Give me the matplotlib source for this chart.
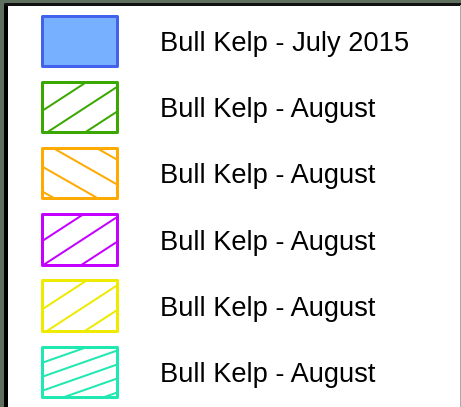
import matplotlib
matplotlib.use("Agg")
import matplotlib.pyplot as plt
from matplotlib.patches import Rectangle
import numpy as np

labels = ["Bull Kelp - July 2015", "Bull Kelp - August", "Bull Kelp - August",
          "Bull Kelp - August", "Bull Kelp - August", "Bull Kelp - August"]
edge_colors = ["#4262ee", "#3aa800", "#ffaa00", "#c400ff", "#eeea00", "#1fe8b0"]
fill_colors = ["#76b0ff", "none", "none", "none", "none", "none"]
# hatch styles: (direction sign, slope, offsets) ; None = solid
hatches = [None,
           (-1, 0.65, [29.8, 54.5, 79.2, 103.9]),
           (1, 0.57, [43.5, 18.7, -6.1, -30.9]),
           (-1, 0.65, [27.5, 52.2, 76.9, 101.6]),
           (-1, 0.65, [29.8, 54.5, 79.2, 103.9]),
           (-1, 0.35, [2.5, 16.5, 30.5, 44.5, 58.5, 72.5])]

W, H = 461, 407
px = 0.72
fig = plt.figure(figsize=(W / 100, H / 100), dpi=100)
ax = fig.add_axes([0, 0, 1, 1])
ax.set_xlim(0, W)
ax.set_ylim(H, 0)
ax.axis("off")

# background (map) strips and legend frame
ax.add_patch(Rectangle((0, 0), W, H, facecolor="#5f705e", edgecolor="none", zorder=0))
ax.add_patch(Rectangle((8, 5.5), 451.5, H, facecolor="white", edgecolor="none", zorder=1))
ax.plot([6, 6], [3.5, H], color="black", lw=4 * px, solid_capstyle="butt", zorder=2)
ax.plot([4, W], [3.8, 3.8], color="#111111", lw=3 * px, solid_capstyle="butt", zorder=2)
ax.plot([459.8, 459.8], [5, H], color="#aaaaaa", lw=1 * px, zorder=2)

left, width, height = 41.5, 75, 50.5
tops = [15.5, 81.5, 147.5, 214, 280, 346.5]
for i, lab in enumerate(labels):
    top = tops[i]
    clip = Rectangle((left, top), width, height, facecolor=fill_colors[i],
                     edgecolor="none", zorder=3)
    ax.add_patch(clip)
    h = hatches[i]
    if h is not None:
        sgn, s, offs = h
        xs = np.array([left - 5, left + width + 5])
        for c in offs:
            ys = top + c + sgn * s * (xs - left)
            ln, = ax.plot(xs, ys, color=edge_colors[i], lw=2 * px, zorder=4)
            ln.set_clip_path(clip)
    ax.add_patch(Rectangle((left, top), width, height, facecolor="none",
                           edgecolor=edge_colors[i], lw=3 * px, joinstyle="round", zorder=5))
    ax.text(160, top + 35.8, lab, fontsize=19.6, family="Liberation Sans",
            va="baseline", ha="left", color="black", zorder=6)

fig.savefig("out.png", dpi=100)
